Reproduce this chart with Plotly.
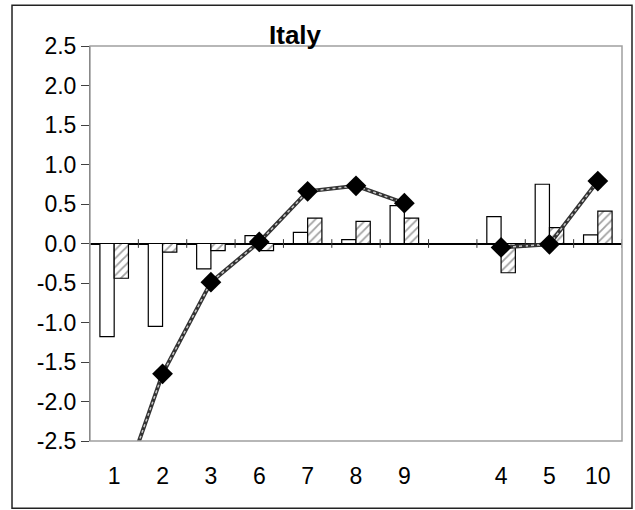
import plotly.graph_objects as go

# categories (blank slot separates the two groups)
labels = ['1', '2', '3', '6', '7', '8', '9', '', '4', '5', '10']
white_bars = [-1.18, -1.05, -0.32, 0.10, 0.14, 0.05, 0.48, None, 0.34, 0.75, 0.11]
hatched_bars = [-0.44, -0.11, -0.09, -0.09, 0.32, 0.28, 0.32, None, -0.37, 0.20, 0.41]
line_vals = [-3.4, -1.65, -0.49, 0.02, 0.66, 0.73, 0.51, None, -0.05, -0.01, 0.79]

y_ticks = [-2.5, -2.0, -1.5, -1.0, -0.5, 0.0, 0.5, 1.0, 1.5, 2.0, 2.5]
y_ticktext = [f'{v:.1f}' for v in y_ticks]

x_pos = list(range(len(labels)))
font_family = 'Liberation Sans, Arial, sans-serif'

fig = go.Figure()

fig.add_trace(go.Bar(
    x=x_pos, y=white_bars, name='white',
    marker=dict(color='white', line=dict(color='black', width=1.2)),
))
fig.add_trace(go.Bar(
    x=x_pos, y=hatched_bars, name='hatched',
    marker=dict(
        color='white',
        line=dict(color='black', width=1.2),
        pattern=dict(shape='/', fgcolor='#444444', bgcolor='white', size=6, solidity=0.3),
    ),
))

# textured grey line: dark base with a light dotted core
fig.add_trace(go.Scatter(
    x=x_pos, y=line_vals, mode='lines',
    line=dict(color='#333333', width=4),
    connectgaps=False, hoverinfo='skip',
))
fig.add_trace(go.Scatter(
    x=x_pos, y=line_vals, mode='lines',
    line=dict(color='#c8c8c8', width=1.5, dash='dot'),
    connectgaps=False, hoverinfo='skip',
))
fig.add_trace(go.Scatter(
    x=x_pos, y=line_vals, mode='markers',
    marker=dict(symbol='diamond', size=16, color='black'),
    cliponaxis=True,
))

# category boundary ticks crossing the zero line
for i in range(len(labels)):
    b = i + 0.5
    fig.add_shape(type='line', xref='x', yref='y', x0=b, x1=b, y0=-0.055, y1=0.055,
                  line=dict(color='#333333', width=1))

# plot area frame (grey) and outer chart border
fig.add_shape(type='rect', xref='paper', yref='paper', x0=0, x1=1, y0=0, y1=1,
              line=dict(color='#a0a0a0', width=1.5), layer='above')
fig.add_shape(type='rect', xref='paper', yref='paper', x0=-0.1466, x1=1.0188, y0=-0.170, y1=1.103,
              line=dict(color='#222222', width=1.5))

fig.add_annotation(
    text='<b>Italy</b>', xref='paper', yref='paper', x=0.387, y=1.028,
    xanchor='center', yanchor='middle', showarrow=False,
    font=dict(family=font_family, size=26, color='black'),
)

fig.update_layout(
    width=635, height=510,
    margin=dict(l=90, r=13, t=46, b=69),
    paper_bgcolor='white', plot_bgcolor='white',
    showlegend=False,
    barmode='group', bargap=0.41, bargroupgap=0,
    font=dict(family=font_family, size=23, color='black'),
    xaxis=dict(
        range=[-0.5, len(labels) - 0.5],
        tickvals=x_pos, ticktext=labels,
        showgrid=False, zeroline=False, showline=False,
        ticks='outside', ticklen=14, tickcolor='rgba(0,0,0,0)',
    ),
    yaxis=dict(
        range=[-2.5, 2.5],
        tickvals=y_ticks, ticktext=y_ticktext,
        showgrid=False,
        zeroline=True, zerolinecolor='black', zerolinewidth=1.5,
        showline=True, linecolor='#404040', linewidth=1,
        ticks='outside', ticklen=8, tickcolor='#404040',
    ),
)

# drop the default page margin so the figure sits at the window origin
fig.write_html('out.html', config={'displayModeBar': False},
               post_script="document.body.style.margin='0';")
